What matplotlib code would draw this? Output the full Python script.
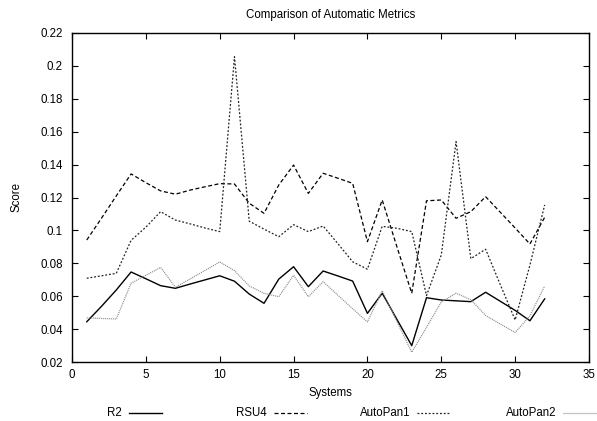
import matplotlib
matplotlib.use("Agg")
import matplotlib.pyplot as plt
from matplotlib.lines import Line2D

plt.rcParams['font.family'] = ['Liberation Sans', 'DejaVu Sans']

systems = list(range(1, 33))

r2 = [0.0446, 0.054, 0.0639, 0.0748, 0.0707, 0.0665, 0.0649, 0.0675, 0.070, 0.0725,
      0.0692, 0.0614, 0.0558, 0.0705, 0.078, 0.0659, 0.0754, 0.0724, 0.0693, 0.0497,
      0.0619, 0.046, 0.0301, 0.0592, 0.0578, 0.0573, 0.0568, 0.0625, 0.057, 0.0515,
      0.0452, 0.0585]

rsu4 = [0.0942, 0.1075, 0.121, 0.1343, 0.129, 0.124, 0.122, 0.1245, 0.1265, 0.1284,
        0.1282, 0.1165, 0.1104, 0.1276, 0.1397, 0.1225, 0.1347, 0.1317, 0.1286, 0.0932,
        0.1185, 0.090, 0.0619, 0.118, 0.1185, 0.1074, 0.1114, 0.1205, 0.111, 0.1015,
        0.0918, 0.108]

autopan1 = [0.071, 0.0725, 0.074, 0.094, 0.102, 0.1114, 0.1063, 0.104, 0.1015, 0.0993,
            0.2054, 0.1056, 0.1008, 0.0962, 0.1035, 0.0993, 0.1027, 0.092, 0.081, 0.0765,
            0.1025, 0.1013, 0.0993, 0.0605, 0.0851, 0.1539, 0.0829, 0.0886, 0.067, 0.0457,
            0.079, 0.1155]

autopan2 = [0.047, 0.0466, 0.0463, 0.068, 0.0728, 0.0776, 0.0655, 0.0706, 0.0757, 0.0809,
            0.0756, 0.0663, 0.0619, 0.0598, 0.0728, 0.0598, 0.0689, 0.0607, 0.0525, 0.0445,
            0.0634, 0.0447, 0.0261, 0.0412, 0.0566, 0.0619, 0.058, 0.0484, 0.0432, 0.0381,
            0.0482, 0.0663]

labels = ["R2", "RSU4", "AutoPan1", "AutoPan2"]
xticks = [0, 5, 10, 15, 20, 25, 30, 35]
yticks = [0.02, 0.04, 0.06, 0.08, 0.1, 0.12, 0.14, 0.16, 0.18, 0.2, 0.22]
ytick_labels = ["0.02", "0.04", "0.06", "0.08", "0.1", "0.12", "0.14", "0.16", "0.18", "0.2", "0.22"]

series = [r2, rsu4, autopan1, autopan2]
styles = [
    dict(color="black", lw=1.0, linestyle="-"),
    dict(color="black", lw=0.9, linestyle=(0, (3.2, 2.0))),
    dict(color="#222222", lw=0.9, linestyle=(0, (1.5, 1.5))),
    dict(color="#8a8a8a", lw=0.9, linestyle=(0, (0.8, 0.8))),
]

FS = 8.3
fig = plt.figure(figsize=(5.97, 4.21), dpi=100)
ax = fig.add_axes([72/597, 1-362.3/421, (589-72)/597, (362.3-32.7)/421])

for ys, st in zip(series, styles):
    ax.plot(systems, ys, **st)

ax.set_xlim(0, 35)
ax.set_ylim(0.02, 0.22)
ax.set_xticks(xticks)
ax.set_xticklabels([str(t) for t in xticks])
ax.set_yticks(yticks)
ax.set_yticklabels(ytick_labels)
ax.tick_params(direction="in", length=4, width=0.8, top=True, right=True,
               labelsize=FS)
ax.tick_params(axis="x", pad=5)
ax.tick_params(axis="y", pad=6.5)
for sp in ax.spines.values():
    sp.set_linewidth(1.0)

cx = 0.5 * (72 + 589) / 597
fig.text(cx, 1 - 15/421, "Comparison of Automatic Metrics",
         ha="center", va="center", fontsize=FS)
fig.text(cx, 1 - 393/421, "Systems", ha="center", va="center", fontsize=FS)
fig.text(16.5/597, 1 - 197/421, "Score", ha="center", va="center", fontsize=FS,
         rotation=90)

text_right = [122, 267, 410, 556]
yy = 1 - 413/421
for lab, st, tr in zip(labels, styles, text_right):
    fig.text(tr/597, yy, lab, ha="right", va="center", fontsize=FS)
    fig.add_artist(Line2D([(tr+7)/597, (tr+40)/597], [yy, yy],
                          transform=fig.transFigure, **st))

fig.savefig("out.png", dpi=100)
